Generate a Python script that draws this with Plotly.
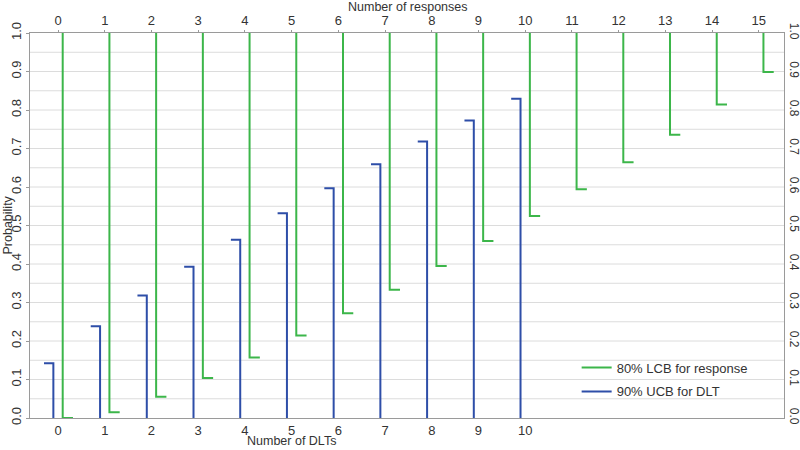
import plotly.graph_objects as go

# Data
dlt_counts = list(range(11))
ucb_dlt = [0.142, 0.238, 0.318, 0.393, 0.463, 0.532, 0.597, 0.659, 0.718, 0.773, 0.829]
response_counts = list(range(16))
lcb_response = [0.0, 0.015, 0.055, 0.104, 0.157, 0.214, 0.272, 0.333, 0.395, 0.460,
                0.525, 0.594, 0.664, 0.736, 0.814, 0.899]

green = "#3cb64a"
blue = "#2e4ea8"
grid = "#dcdcdc"
axis_col = "#9a9a9a"
font_family = "Liberation Sans, Arial, sans-serif"

# Build step-like segments
bx, by = [], []
for k, v in zip(dlt_counts, ucb_dlt):
    bx += [k - 0.3, k - 0.1, k - 0.1, None]
    by += [v, v, 0, None]

gx, gy = [], []
for k, v in zip(response_counts, lcb_response):
    gx += [k + 0.1, k + 0.1, k + 0.32, None]
    gy += [1, v, v, None]

green_trace = go.Scatter(x=gx, y=gy, mode="lines", xaxis="x2",
                         line=dict(color=green, width=2),
                         name="80% LCB for response", legendgroup="g")
blue_trace = go.Scatter(x=bx, y=by, mode="lines",
                        line=dict(color=blue, width=2),
                        name="90% UCB for DLT", legendgroup="b")

fig = go.Figure(data=[green_trace, blue_trace])

xrange = [-0.6, 15.54]
yticks = [i / 10 for i in range(11)]
ylabels = ["%.1f" % t for t in yticks]
fig.update_layout(
    width=800, height=450,
    margin=dict(l=30, r=16, t=33, b=32),
    paper_bgcolor="white", plot_bgcolor="white",
    font=dict(family=font_family, size=13, color="#333333"),
    showlegend=True,
    legend=dict(x=0.725, y=0.17, xanchor="left", yanchor="top",
                bgcolor="rgba(0,0,0,0)", font=dict(size=13),
                traceorder="grouped", tracegroupgap=4),
    xaxis=dict(range=xrange, tickvals=dlt_counts, showgrid=False,
               zeroline=False, showline=True, linecolor=axis_col,
               ticks="", automargin=False),
    xaxis2=dict(range=xrange, tickvals=response_counts, overlaying="x",
                side="top", showgrid=False, zeroline=False, showline=True,
                linecolor=axis_col, ticks="outside", ticklen=2,
                tickcolor=axis_col, automargin=False),
    yaxis=dict(range=[0, 1], tickvals=yticks, ticktext=ylabels,
               tickangle=-90, showgrid=False, zeroline=False,
               showline=True, linecolor=axis_col, ticks="outside",
               ticklen=3, tickcolor=axis_col, automargin=False),
    yaxis2=dict(range=[0, 1], tickvals=yticks, ticktext=ylabels,
                tickangle=90, overlaying="y", side="right",
                showgrid=False, zeroline=False, showline=True,
                linecolor=axis_col, ticks="", automargin=False,
                tickfont=dict(size=12)),
)

# axis titles
fig.add_annotation(text="Number of DLTs", xref="x", yref="paper", x=5,
                   y=0, yshift=-23, showarrow=False, yanchor="middle",
                   font=dict(size=12.5), borderpad=0)
fig.add_annotation(text="Number of responses", xref="x", yref="paper", x=7.5,
                   y=1, yshift=26, showarrow=False, yanchor="middle",
                   font=dict(size=12.5), borderpad=0)
fig.add_annotation(text="Probability", xref="paper", yref="paper", x=0,
                   y=0.5, xshift=-23, showarrow=False, textangle=-90,
                   xanchor="center", font=dict(size=12.5), borderpad=0)

# light grid every 0.05
for i in range(1, 20):
    fig.add_hline(y=i * 0.05, line=dict(color=grid, width=1), layer="below")

# dummy trace to activate right axis
fig.add_trace(go.Scatter(x=[None], y=[None], yaxis="y2", showlegend=False))

fig.write_html("out.html", config={"displayModeBar": False},
               post_script="document.body.style.margin='0';")
